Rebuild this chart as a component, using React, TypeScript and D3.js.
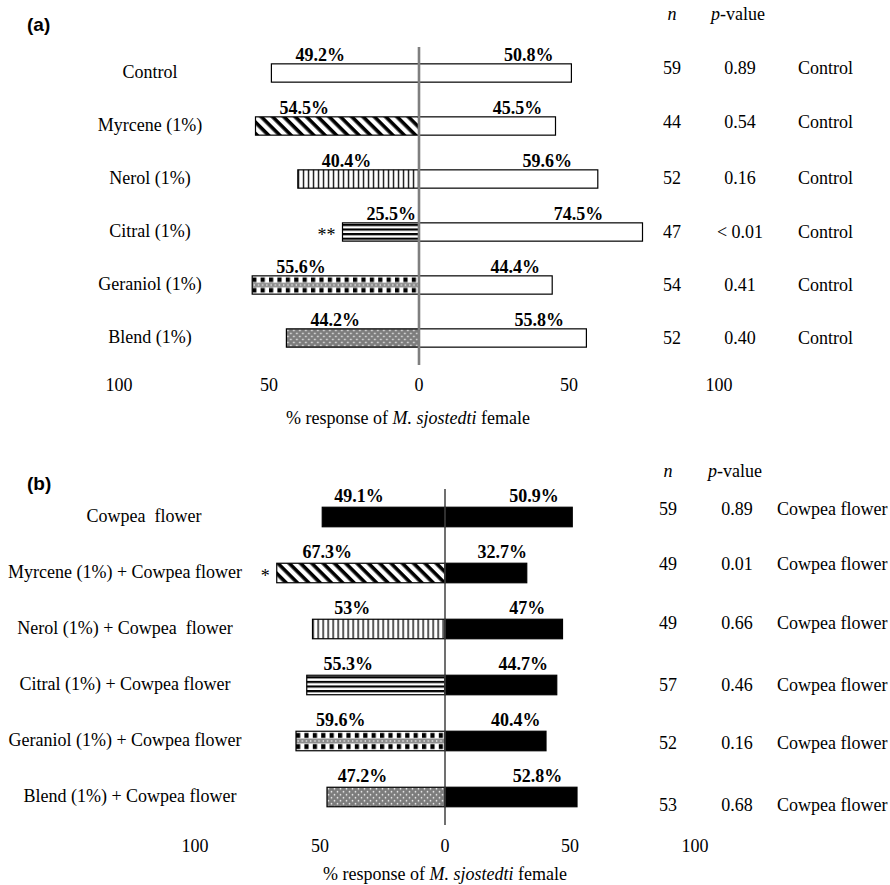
import React from "react";
import * as d3 from "d3";

// ---------- data ----------
const treatmentsA = ["Control", "Myrcene (1%)", "Nerol (1%)", "Citral (1%)", "Geraniol (1%)", "Blend (1%)"];
const treatedPctA = [49.2, 54.5, 40.4, 25.5, 55.6, 44.2];
const controlPctA = [50.8, 45.5, 59.6, 74.5, 44.4, 55.8];
const sampleSizeA = [59, 44, 52, 47, 54, 52];
const pValueA = ["0.89", "0.54", "0.16", "< 0.01", "0.41", "0.40"];
const signifA = ["", "", "", "**", "", ""];
const comparisonA = "Control";

const treatmentsB = [
  "Cowpea  flower",
  "Myrcene (1%) + Cowpea flower",
  "Nerol (1%) + Cowpea  flower",
  "Citral (1%) + Cowpea flower",
  "Geraniol (1%) + Cowpea flower",
  "Blend (1%) + Cowpea flower",
];
const treatedPctB = [49.1, 67.3, 53, 55.3, 59.6, 47.2];
const controlPctB = [50.9, 32.7, 47, 44.7, 40.4, 52.8];
const sampleSizeB = [59, 49, 49, 57, 52, 53];
const pValueB = ["0.89", "0.01", "0.66", "0.46", "0.16", "0.68"];
const signifB = ["", "*", "", "", "", ""];
const comparisonB = "Cowpea flower";

// fill style of the treated (left) bar, row by row
const fillKinds = ["plain", "diagonal", "vertical", "horizontal", "checker", "dotted"];
const tickValues = [-100, -50, 0, 50, 100];

// ---------- layout ----------
const SERIF = "'Liberation Serif', 'Times New Roman', serif";
const SANS = "'Liberation Sans', Arial, sans-serif";

type Layout = {
  id: string;
  tag: string;
  tagY: number;
  xRange: [number, number];
  firstY: number;
  stepY: number;
  barH: number;
  base: string;
  zeroTop: number;
  zeroBottom: number;
  zeroColor: string;
  zeroWidth: number;
  tickY: number;
  titleX: number;
  titleY: number;
  labelX: number;
  labelShift: number[];
  headerY: number;
  colN: number;
  colP: number;
  colC: number;
  textShift: number[];
  pctDy: number;
  leftPctMode: "start" | "mid";
  rightPctFrac: number;
  rightPctOff: number;
};

type Series = {
  names: string[];
  treated: number[];
  control: number[];
  n: number[];
  p: string[];
  sig: string[];
  comparison: string;
};

const layoutA: Layout = {
  id: "a", tag: "(a)", tagY: 31,
  xRange: [119, 719], firstY: 73, stepY: 53, barH: 18.3, base: "#ffffff",
  zeroTop: 47, zeroBottom: 365, zeroColor: "#7f7f7f", zeroWidth: 2.6,
  tickY: 391, titleX: 408, titleY: 424,
  labelX: 150, labelShift: [0, 0, 0, 0, 0, 0],
  headerY: 20, colN: 672, colP: 740, colC: 798,
  textShift: [-5, -4, -1, 0, 0, 0],
  pctDy: -12, leftPctMode: "start", rightPctFrac: 0.7, rightPctOff: 3,
};

const layoutB: Layout = {
  id: "b", tag: "(b)", tagY: 490,
  xRange: [195, 695], firstY: 517, stepY: 56, barH: 19.5, base: "#000000",
  zeroTop: 489, zeroBottom: 825, zeroColor: "#404040", zeroWidth: 1.5,
  tickY: 852, titleX: 445, titleY: 880,
  labelX: 125, labelShift: [19, 0, 0, 0, 0, 5],
  headerY: 477, colN: 668, colP: 737, colC: 777,
  textShift: [-8, -9, -6, 0, 2, 8],
  pctDy: -15, leftPctMode: "mid", rightPctFrac: 0.7, rightPctOff: 0,
};

function PatternDef({ id, kind, x, y, h }: { id: string; kind: string; x: number; y: number; h: number }) {
  if (kind === "diagonal") {
    return (
      <pattern id={id} patternUnits="userSpaceOnUse" width={8} height={8} patternTransform="rotate(45)">
        <rect width={8} height={8} fill="#fff" />
        <rect width={8} height={3.6} fill="#000" />
      </pattern>
    );
  }
  if (kind === "vertical") {
    return (
      <pattern id={id} patternUnits="userSpaceOnUse" x={x} y={y} width={5} height={10}>
        <rect width={5} height={10} fill="#fff" />
        <rect x={0} width={1.3} height={10} fill="#000" />
      </pattern>
    );
  }
  if (kind === "horizontal") {
    return (
      <pattern id={id} patternUnits="userSpaceOnUse" x={x} y={y + 1} width={10} height={4.6}>
        <rect width={10} height={4.6} fill="#fff" />
        <rect y={0} width={10} height={2.2} fill="#000" />
      </pattern>
    );
  }
  if (kind === "checker") {
    const r = h / 4;
    return (
      <pattern id={id} patternUnits="userSpaceOnUse" x={x} y={y} width={8.4} height={h}>
        <rect width={8.4} height={h} fill="#fff" />
        <rect x={0} y={r * 0.35} width={4.2} height={r} fill="#000" />
        <rect x={0} y={r * 1.5} width={8.4} height={r} fill="#8c8c8c" />
        <circle cx={2.1} cy={r * 2} r={0.8} fill="#fff" />
        <circle cx={6.3} cy={r * 2} r={0.8} fill="#fff" />
        <rect x={0} y={r * 2.65} width={4.2} height={r} fill="#000" />
      </pattern>
    );
  }
  if (kind === "dotted") {
    return (
      <pattern id={id} patternUnits="userSpaceOnUse" x={x} y={y} width={6} height={6}>
        <rect width={6} height={6} fill="#7c7c7c" />
        <circle cx={1.5} cy={1.5} r={0.85} fill="#fff" />
        <circle cx={4.5} cy={4.5} r={0.85} fill="#fff" />
      </pattern>
    );
  }
  return null;
}

function Panel({ L, S }: { L: Layout; S: Series }) {
  const x = d3.scaleLinear().domain([-100, 100]).range(L.xRange);
  const y = d3
    .scalePoint<string>()
    .domain(S.names)
    .range([L.firstY, L.firstY + L.stepY * (S.names.length - 1)]);
  const x0 = x(0);

  return (
    <g>
      <text x={27} y={L.tagY} fontFamily={SANS} fontWeight="bold" fontSize={19} fill="#000">
        {L.tag}
      </text>

      {/* column headers */}
      <text x={L.colN} y={L.headerY} fontFamily={SERIF} fontSize={18} fontStyle="italic" textAnchor="middle">
        n
      </text>
      <text x={L.colP - 29} y={L.headerY} fontFamily={SERIF} fontSize={18}>
        <tspan fontStyle="italic">p</tspan>-value
      </text>

      <defs>
        {S.names.map((name, i) => {
          const cy = y(name)!;
          const left = x(-S.treated[i]);
          return (
            <PatternDef
              key={name}
              id={`fill-${L.id}-${i}`}
              kind={fillKinds[i]}
              x={left}
              y={cy - L.barH / 2}
              h={L.barH}
            />
          );
        })}
      </defs>

      {S.names.map((name, i) => {
        const cy = y(name)!;
        const top = cy - L.barH / 2;
        const tVal = S.treated[i];
        const cVal = S.control[i];
        const left = x(-tVal);
        const right = x(cVal);
        const leftFill = fillKinds[i] === "plain" ? L.base : `url(#fill-${L.id}-${i})`;
        const leftLabelX = L.leftPctMode === "start" ? left + 24 : x(-0.7 * tVal);
        const rightLabelX = x(L.rightPctFrac * cVal) + L.rightPctOff;
        const sh = L.textShift[i];
        return (
          <g key={name}>
            <text
              x={L.labelX + L.labelShift[i]}
              y={cy + 5}
              fontFamily={SERIF}
              fontSize={18}
              textAnchor="middle"
              style={{ whiteSpace: "pre" }}
            >
              {name}
            </text>
            <rect x={left} y={top} width={x0 - left} height={L.barH} fill={leftFill} stroke="#000" strokeWidth={1.2} />
            <rect x={x0} y={top} width={right - x0} height={L.barH} fill={L.base} stroke="#000" strokeWidth={1.2} />
            <text
              x={leftLabelX}
              y={cy + L.pctDy}
              fontFamily={SERIF}
              fontWeight="bold"
              fontSize={18}
              textAnchor={L.leftPctMode === "start" ? "start" : "middle"}
            >
              {`${tVal}%`}
            </text>
            <text x={rightLabelX} y={cy + L.pctDy} fontFamily={SERIF} fontWeight="bold" fontSize={18} textAnchor="middle">
              {`${cVal}%`}
            </text>
            {S.sig[i] && (
              <text x={left - 7} y={cy + 9} fontFamily={SERIF} fontSize={18} textAnchor="end">
                {S.sig[i]}
              </text>
            )}
            <text x={L.colN} y={cy + sh + 6} fontFamily={SERIF} fontSize={18} textAnchor="middle">
              {S.n[i]}
            </text>
            <text x={L.colP} y={cy + sh + 6} fontFamily={SERIF} fontSize={18} textAnchor="middle">
              {S.p[i]}
            </text>
            <text x={L.colC} y={cy + sh + 6} fontFamily={SERIF} fontSize={18}>
              {S.comparison}
            </text>
          </g>
        );
      })}

      <line x1={x0} x2={x0} y1={L.zeroTop} y2={L.zeroBottom} stroke={L.zeroColor} strokeWidth={L.zeroWidth} />

      {tickValues.map((t) => (
        <text key={t} x={x(t)} y={L.tickY} fontFamily={SERIF} fontSize={18} textAnchor="middle">
          {Math.abs(t)}
        </text>
      ))}

      <text x={L.titleX} y={L.titleY} fontFamily={SERIF} fontSize={18} textAnchor="middle" style={{ whiteSpace: "pre" }}>
        {"% response of "}
        <tspan fontStyle="italic">M. sjostedti</tspan>
        {" female"}
      </text>
    </g>
  );
}

export default function App() {
  const seriesA: Series = {
    names: treatmentsA, treated: treatedPctA, control: controlPctA,
    n: sampleSizeA, p: pValueA, sig: signifA, comparison: comparisonA,
  };
  const seriesB: Series = {
    names: treatmentsB, treated: treatedPctB, control: controlPctB,
    n: sampleSizeB, p: pValueB, sig: signifB, comparison: comparisonB,
  };
  return (
    <svg
      width={890}
      height={885}
      viewBox="0 0 890 885"
      style={{ position: "absolute", left: 0, top: 0, background: "#fff" }}
    >
      <rect width={890} height={885} fill="#fff" />
      <Panel L={layoutA} S={seriesA} />
      <Panel L={layoutB} S={seriesB} />
    </svg>
  );
}
